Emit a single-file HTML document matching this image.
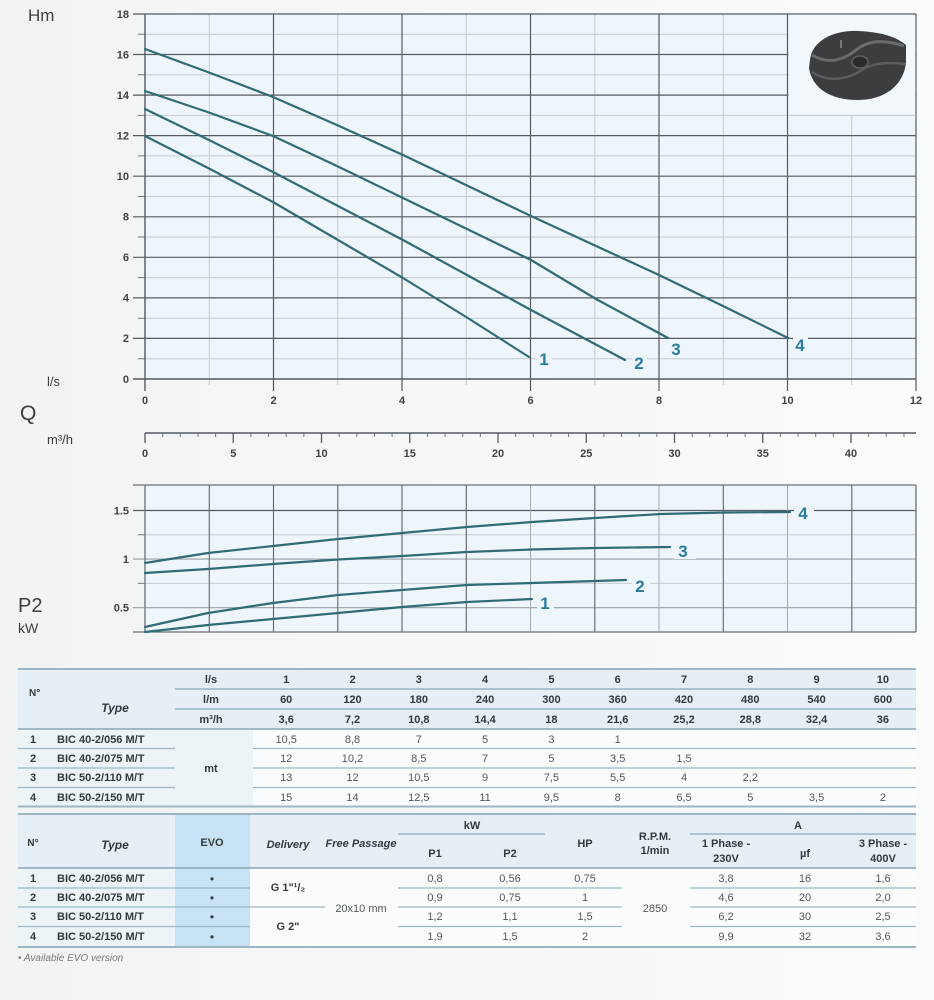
<!DOCTYPE html>
<html><head><meta charset="utf-8"><style>
html,body{margin:0;padding:0;background:#f7f8f8;}
svg{display:block;}
text{font-family:"Liberation Sans",sans-serif;}
</style></head><body>
<svg width="934" height="1000" viewBox="0 0 934 1000" xmlns="http://www.w3.org/2000/svg">
<defs>
<linearGradient id="bg" x1="0" y1="0" x2="1" y2="0">
<stop offset="0" stop-color="#f2f3f3"/><stop offset="1" stop-color="#fafbfb"/>
</linearGradient>
</defs>
<rect x="0" y="0" width="934" height="1000" fill="url(#bg)"/>

<!-- ================= TOP CHART ================= -->
<rect x="145" y="14" width="771" height="365" fill="#eef5fb"/>
<!-- minor horizontal -->
<g stroke="#c5ccd2" stroke-width="1">
<path d="M145 358.7H916M145 318.2H916M145 277.6H916M145 237H916M145 196.5H916M145 155.9H916M145 115.4H916M145 74.8H916M145 34.2H916"/>
</g>
<!-- minor vertical -->
<g stroke="#c5ccd2" stroke-width="1">
<path d="M209.3 14V385M337.8 14V385M466.3 14V385M594.8 14V385M723.3 14V385M851.8 14V385"/>
</g>
<!-- major horizontal -->
<g stroke="#555b60" stroke-width="1.2">
<path d="M133 338.4H916M133 297.9H916M133 257.3H916M133 216.8H916M133 176.2H916M133 135.6H916M133 95.1H916M133 54.5H916M133 14H916"/>
</g>
<!-- major vertical -->
<g stroke="#555b60" stroke-width="1.2">
<path d="M273.5 14V391M402 14V391M530.5 14V391M659 14V391M787.5 14V391M916 14V391"/>
</g>
<!-- minor y ticks -->
<path d="M138 358.7H145M138 318.2H145M138 277.6H145M138 237H145M138 196.5H145M138 155.9H145M138 115.4H145M138 74.8H145M138 34.2H145" stroke="#777" stroke-width="1"/>
<!-- axes -->
<path d="M145 14V391M133 379H916" stroke="#555b60" stroke-width="1.4"/>

<!-- inset image box -->
<rect x="788.5" y="14.8" width="126.8" height="100" fill="#f2f7fb"/>
<path d="M788 115.4H916" stroke="#c5ccd2" stroke-width="1"/>
<g>
<path d="M810 60 C812 40 835 30 858 31 C880 32 895 36 906 45 L906 62 C904 85 885 100 858 100 C830 100 812 88 809 68 Z" fill="#3c3d3f"/>
<path d="M812 55 C830 66 846 58 856 50 C866 42 880 38 904 46" fill="none" stroke="#6a6c6e" stroke-width="3"/>
<path d="M812 72 C830 84 850 78 862 70 C874 62 890 62 905 64" fill="none" stroke="#5a5c5e" stroke-width="2.5"/>
<ellipse cx="860" cy="62" rx="8" ry="6" fill="#2a2b2c" stroke="#5e6062" stroke-width="1.5"/>
<path d="M841 40V48" stroke="#8a8c8e" stroke-width="1.5"/>
</g>

<!-- y labels -->
<g font-size="11" font-weight="bold" fill="#3d4347" text-anchor="end">
<text x="129" y="18">18</text>
<text x="129" y="58.5">16</text>
<text x="129" y="99">14</text>
<text x="129" y="139.5">12</text>
<text x="129" y="180">10</text>
<text x="129" y="220.5">8</text>
<text x="129" y="261">6</text>
<text x="129" y="301.5">4</text>
<text x="129" y="342">2</text>
<text x="129" y="383">0</text>
</g>
<!-- x labels l/s -->
<g font-size="11" font-weight="bold" fill="#3d4347" text-anchor="middle">
<text x="145" y="404">0</text>
<text x="273.5" y="404">2</text>
<text x="402" y="404">4</text>
<text x="530.5" y="404">6</text>
<text x="659" y="404">8</text>
<text x="787.5" y="404">10</text>
<text x="916" y="404">12</text>
</g>

<!-- curves top -->
<g fill="none" stroke="#2f6c76" stroke-width="2.2" stroke-linejoin="round" stroke-linecap="round">
<polyline points="145,49 209,72.5 273,97 338,125.5 403,155 467,185.5 531,216 595,245.5 659,275 723,306 788,338"/>
<polyline points="145,91 209,112.5 273,136 338,166.5 403,198 467,229 531,260 596,299 668,338"/>
<polyline points="145,109 209,140 273,172 338,206 403,240 467,275 531,310 625,360"/>
<polyline points="145,136 209,168.5 273,202 338,240 403,278 467,317.5 529,357"/>
</g>
<!-- curve labels top -->
<g font-size="17" font-weight="bold" fill="#2a7ca0" text-anchor="middle">
<rect x="537" y="350" width="15" height="17" fill="#eef5fb"/>
<text x="544" y="365">1</text>
<rect x="632" y="353" width="15" height="18" fill="#eef5fb"/>
<text x="639" y="369">2</text>
<rect x="669" y="340" width="15" height="18" fill="#eef5fb"/>
<text x="676" y="355">3</text>
<rect x="793" y="336" width="15" height="18" fill="#eef5fb"/>
<text x="800" y="351">4</text>
</g>

<!-- axis titles -->
<text x="28" y="21" font-size="17" fill="#3a3f43">Hm</text>
<text x="47" y="386" font-size="13" fill="#3a3f43">l/s</text>
<text x="20" y="420" font-size="21" fill="#3a3f43">Q</text>
<text x="47" y="444" font-size="13" fill="#3a3f43">m³/h</text>
<text x="18" y="612" font-size="20" fill="#3a3f43">P2</text>
<text x="18" y="633" font-size="14" fill="#3a3f43">kW</text>

<!-- ================= m3/h AXIS ================= -->
<path d="M145 433H916" stroke="#555b60" stroke-width="1.4"/>
<path d="M162.65 433v4M180.3 433v4M197.95 433v4M215.6 433v4M250.9 433v4M268.55 433v4M286.2 433v4M303.85 433v4M339.15 433v4M356.8 433v4M374.45 433v4M392.1 433v4M427.4 433v4M445.05 433v4M462.7 433v4M480.35 433v4M515.65 433v4M533.3 433v4M550.95 433v4M568.6 433v4M603.9 433v4M621.55 433v4M639.2 433v4M656.85 433v4M692.15 433v4M709.8 433v4M727.45 433v4M745.1 433v4M780.4 433v4M798.05 433v4M815.7 433v4M833.35 433v4M868.65 433v4M886.3 433v4M903.95 433v4" stroke="#777" stroke-width="1"/>
<path d="M145 433v10M233.25 433v10M321.5 433v10M409.75 433v10M498 433v10M586.25 433v10M674.5 433v10M762.75 433v10M851 433v10" stroke="#555b60" stroke-width="1.3"/>
<g font-size="11" font-weight="bold" fill="#3d4347" text-anchor="middle">
<text x="145" y="457">0</text>
<text x="233.25" y="457">5</text>
<text x="321.5" y="457">10</text>
<text x="409.75" y="457">15</text>
<text x="498" y="457">20</text>
<text x="586.25" y="457">25</text>
<text x="674.5" y="457">30</text>
<text x="762.75" y="457">35</text>
<text x="851" y="457">40</text>
</g>

<!-- ================= P2 CHART ================= -->
<rect x="145" y="485" width="771" height="147" fill="#eef5fb"/>
<path d="M145 534.8H916M145 583.4H916" stroke="#c5ccd2" stroke-width="1"/>
<path d="M133 559.1H916M133 607.7H916" stroke="#9aa1a6" stroke-width="1.1"/>
<path d="M133 510.5H916" stroke="#555b60" stroke-width="1.2"/>
<path d="M138 534.8H145M138 583.4H145" stroke="#777" stroke-width="1"/>
<path d="M530.5 485V632M659 485V632M787.5 485V632" stroke="#a6adb2" stroke-width="1"/>
<path d="M209.3 485V632M273.5 485V632M337.8 485V632M402 485V632M466.3 485V632M594.8 485V632M723.3 485V632M851.8 485V632" stroke="#61676b" stroke-width="1.1"/>
<path d="M133 485H916M145 485V632M916 485V632M133 632H916" stroke="#6b7175" stroke-width="1.3"/>
<g font-size="11" font-weight="bold" fill="#3d4347" text-anchor="end">
<text x="129" y="514.5">1.5</text>
<text x="129" y="563">1</text>
<text x="129" y="611.5">0.5</text>
</g>
<g fill="none" stroke="#2f6c76" stroke-width="2.2" stroke-linejoin="round" stroke-linecap="round">
<polyline points="145,563 208,553 273,546 338,539 402,533 467,527 532,522 595,518 661,514 725,512.5 790,512"/>
<polyline points="145,573 208,569 273,564 338,559.5 402,556 467,552 532,549.5 595,548 670,547"/>
<polyline points="145,627 208,613 273,603 338,595 402,590 467,585 532,583 626,580"/>
<polyline points="145,632 208,625 273,619 338,613 402,607 467,602 532,599"/>
</g>
<g font-size="17" font-weight="bold" fill="#2a7ca0" text-anchor="middle">
<rect x="537" y="594" width="17" height="18" fill="#eef5fb"/>
<text x="545" y="609">1</text>
<rect x="632" y="576" width="18" height="18" fill="#eef5fb"/>
<text x="640" y="592">2</text>
<rect x="674" y="541" width="22" height="18" fill="#eef5fb"/>
<text x="683" y="557">3</text>
<rect x="794" y="503" width="20" height="18" fill="#eef5fb"/>
<text x="803" y="519">4</text>
</g>

<!-- ================= TABLE 1 ================= -->
<rect x="18" y="670" width="898" height="59" fill="#e5eff5"/>
<rect x="18" y="730" width="235" height="76" fill="#edf4f8"/>
<rect x="253" y="730" width="663" height="76" fill="#fbfcfd"/>
<path d="M18 669H916" stroke="#9db6c4" stroke-width="2"/>
<path d="M175 689H916M175 709H916" stroke="#8aa6b6" stroke-width="1.2"/>
<path d="M18 729H916" stroke="#8aa6b6" stroke-width="1.5"/>
<path d="M18 748.5H175M253 748.5H916M18 768H175M253 768H916M18 787.5H175M253 787.5H916" stroke="#9db6c4" stroke-width="1.2"/>
<path d="M18 806.5H916" stroke="#9db6c4" stroke-width="2"/>
<g font-size="11" font-weight="bold" fill="#333a3e">
<text x="29" y="696" font-size="10">N°</text>
<text x="115" y="712" text-anchor="middle" font-style="italic" font-size="12">Type</text>
<g text-anchor="middle">
<text x="211" y="683">l/s</text>
<text x="211" y="703">l/m</text>
<text x="211" y="723">m³/h</text>
<text x="286.2" y="683">1</text><text x="352.5" y="683">2</text><text x="418.8" y="683">3</text><text x="485.1" y="683">4</text><text x="551.4" y="683">5</text><text x="617.7" y="683">6</text><text x="684" y="683">7</text><text x="750.3" y="683">8</text><text x="816.6" y="683">9</text><text x="882.9" y="683">10</text>
<text x="286.2" y="703">60</text><text x="352.5" y="703">120</text><text x="418.8" y="703">180</text><text x="485.1" y="703">240</text><text x="551.4" y="703">300</text><text x="617.7" y="703">360</text><text x="684" y="703">420</text><text x="750.3" y="703">480</text><text x="816.6" y="703">540</text><text x="882.9" y="703">600</text>
<text x="286.2" y="723">3,6</text><text x="352.5" y="723">7,2</text><text x="418.8" y="723">10,8</text><text x="485.1" y="723">14,4</text><text x="551.4" y="723">18</text><text x="617.7" y="723">21,6</text><text x="684" y="723">25,2</text><text x="750.3" y="723">28,8</text><text x="816.6" y="723">32,4</text><text x="882.9" y="723">36</text>
<text x="211" y="772">mt</text>
</g>
<text x="30" y="743">1</text><text x="57" y="743">BIC 40-2/056  M/T</text>
<text x="30" y="762">2</text><text x="57" y="762">BIC 40-2/075  M/T</text>
<text x="30" y="781">3</text><text x="57" y="781">BIC 50-2/110  M/T</text>
<text x="30" y="801">4</text><text x="57" y="801">BIC 50-2/150  M/T</text>
</g>
<g font-size="11" fill="#50575b" text-anchor="middle">
<text x="286.2" y="743">10,5</text><text x="352.5" y="743">8,8</text><text x="418.8" y="743">7</text><text x="485.1" y="743">5</text><text x="551.4" y="743">3</text><text x="617.7" y="743">1</text>
<text x="286.2" y="762">12</text><text x="352.5" y="762">10,2</text><text x="418.8" y="762">8,5</text><text x="485.1" y="762">7</text><text x="551.4" y="762">5</text><text x="617.7" y="762">3,5</text><text x="684" y="762">1,5</text>
<text x="286.2" y="781">13</text><text x="352.5" y="781">12</text><text x="418.8" y="781">10,5</text><text x="485.1" y="781">9</text><text x="551.4" y="781">7,5</text><text x="617.7" y="781">5,5</text><text x="684" y="781">4</text><text x="750.3" y="781">2,2</text>
<text x="286.2" y="801">15</text><text x="352.5" y="801">14</text><text x="418.8" y="801">12,5</text><text x="485.1" y="801">11</text><text x="551.4" y="801">9,5</text><text x="617.7" y="801">8</text><text x="684" y="801">6,5</text><text x="750.3" y="801">5</text><text x="816.6" y="801">3,5</text><text x="882.9" y="801">2</text>
</g>

<!-- ================= TABLE 2 ================= -->
<rect x="18" y="815" width="898" height="53" fill="#e5eff5"/>
<rect x="18" y="869" width="157" height="78" fill="#edf4f8"/>
<rect x="250" y="869" width="666" height="78" fill="#fbfcfd"/>
<rect x="175" y="815" width="75" height="132" fill="#c6e2f4"/>
<path d="M18 814H916" stroke="#9db6c4" stroke-width="2"/>
<path d="M398 834H545M690 834H916" stroke="#8aa6b6" stroke-width="1.2"/>
<path d="M18 868H916" stroke="#8aa6b6" stroke-width="1.5"/>
<path d="M18 888H250M398 888H622M690 888H916M18 907H325M398 907H622M690 907H916M18 926.5H250M398 926.5H622M690 926.5H916" stroke="#9db6c4" stroke-width="1.2"/>
<path d="M18 947H916" stroke="#9db6c4" stroke-width="2"/>
<g font-size="11" font-weight="bold" fill="#333a3e" text-anchor="middle">
<text x="33" y="846" font-size="10">N°</text>
<text x="115" y="849" font-style="italic" font-size="12">Type</text>
<text x="212" y="846">EVO</text>
<text x="288" y="848" font-style="italic">Delivery</text>
<text x="361" y="847" font-style="italic">Free Passage</text>
<text x="472" y="829">kW</text>
<text x="435" y="857">P1</text>
<text x="510" y="857">P2</text>
<text x="585" y="847">HP</text>
<text x="655" y="840">R.P.M.</text>
<text x="655" y="854">1/min</text>
<text x="798" y="829">A</text>
<text x="726" y="847">1 Phase -</text>
<text x="726" y="862">230V</text>
<text x="805" y="857">µf</text>
<text x="883" y="847">3 Phase -</text>
<text x="883" y="862">400V</text>
<text x="288" y="891">G 1"¹/₂</text>
<text x="288" y="930">G 2"</text>
</g>
<g font-size="11" font-weight="bold" fill="#333a3e">
<text x="30" y="882">1</text><text x="57" y="882">BIC 40-2/056  M/T</text>
<text x="30" y="901">2</text><text x="57" y="901">BIC 40-2/075  M/T</text>
<text x="30" y="920">3</text><text x="57" y="920">BIC 50-2/110  M/T</text>
<text x="30" y="940">4</text><text x="57" y="940">BIC 50-2/150  M/T</text>
</g>
<g font-size="12" fill="#333a3e" text-anchor="middle">
<text x="212" y="883">•</text><text x="212" y="902">•</text><text x="212" y="921">•</text><text x="212" y="941">•</text>
</g>
<g font-size="11" fill="#50575b" text-anchor="middle">
<text x="361" y="912">20x10 mm</text>
<text x="655" y="912">2850</text>
<text x="435" y="882">0,8</text><text x="510" y="882">0,56</text><text x="585" y="882">0,75</text><text x="726" y="882">3,8</text><text x="805" y="882">16</text><text x="883" y="882">1,6</text>
<text x="435" y="901">0,9</text><text x="510" y="901">0,75</text><text x="585" y="901">1</text><text x="726" y="901">4,6</text><text x="805" y="901">20</text><text x="883" y="901">2,0</text>
<text x="435" y="920">1,2</text><text x="510" y="920">1,1</text><text x="585" y="920">1,5</text><text x="726" y="920">6,2</text><text x="805" y="920">30</text><text x="883" y="920">2,5</text>
<text x="435" y="940">1,9</text><text x="510" y="940">1,5</text><text x="585" y="940">2</text><text x="726" y="940">9,9</text><text x="805" y="940">32</text><text x="883" y="940">3,6</text>
</g>
<text x="18" y="961" font-size="10" font-style="italic" fill="#777c80">• Available EVO version</text>
</svg>
</body></html>
